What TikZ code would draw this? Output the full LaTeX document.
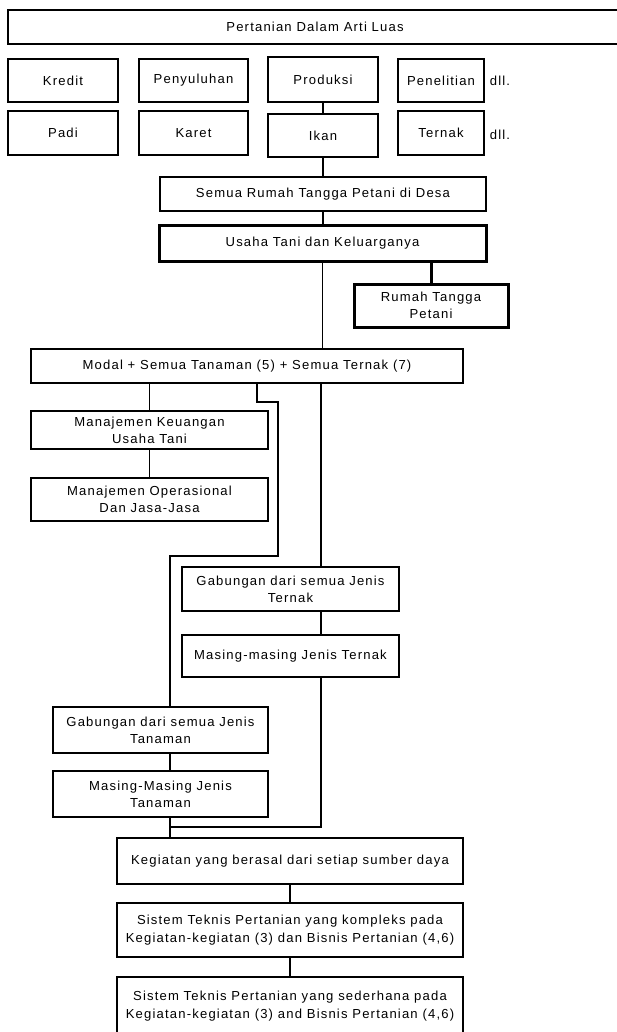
\documentclass[tikz,border=0pt]{standalone}
\usepackage{fontspec}
\setmainfont[LetterSpace=9]{Liberation Sans}
\usetikzlibrary{calc}

\begin{document}
\begin{tikzpicture}[x=0.75pt,y=-0.75pt,
  box/.style={draw,line width=1pt,rectangle,align=center,inner sep=0pt,
    font=\fontsize{9.8}{13}\selectfont},
  heavybox/.style={box,line width=2.25pt},
  boxsize/.style 2 args={minimum width=0.75*#1,minimum height=0.75*#2},
  link/.style={line width=1pt},
  heavylink/.style={line width=2.25pt}]

\useasboundingbox (0,0) rectangle (617,1032);

% Title and the two rows of examples.
\node[box,boxsize={614}{34}] (pertanian) at (315,27) {Pertanian Dalam Arti Luas};

\node[box,boxsize={110}{43}] (kredit) at (63,80.5) {Kredit};
\node[box,boxsize={109}{43}] (penyuluhan) at (193.5,80.5) {Penyuluhan};
\node[box,boxsize={110}{45}] (produksi) at (323,79.5) {Produksi};
\node[box,boxsize={86}{43}] (penelitian) at (441,80.5) {Penelitian};
\node[font=\fontsize{9.8}{13}\selectfont] (dllA) at (500,81) {dll.};

\node[box,boxsize={110}{44}] (padi) at (63,133) {Padi};
\node[box,boxsize={109}{44}] (karet) at (193.5,133) {Karet};
\node[box,boxsize={110}{43}] (ikan) at (323,135.5) {Ikan};
\node[box,boxsize={86}{44}] (ternak) at (441,133) {Ternak};
\node[font=\fontsize{9.8}{13}\selectfont] (dllB) at (500,135) {dll.};

% Household and farm.
\node[box,boxsize={326}{34}] (semua) at (323,194) {Semua Rumah Tangga Petani di Desa};
\node[heavybox,boxsize={327}{36}] (usaha) at (322.5,243) {Usaha Tani dan Keluarganya};
\node[heavybox,boxsize={154}{43}] (rumah) at (431,305.5) {Rumah Tangga\\Petani};

\node[box,boxsize={432}{34}] (modal) at (247,366) {Modal + Semua Tanaman (5) + Semua Ternak (7)};
\node[box,boxsize={237}{38}] (keuangan) at (149.5,430) {Manajemen Keuangan\\Usaha Tani};
\node[box,boxsize={237}{43}] (operasional) at (149.5,499.5) {Manajemen Operasional\\Dan Jasa-Jasa};

% Livestock and crops.
\node[box,boxsize={217}{44}] (gabTernak) at (290.5,589) {Gabungan dari semua Jenis\\Ternak};
\node[box,boxsize={217}{42}] (masTernak) at (290.5,656) {Masing-masing Jenis Ternak};
\node[box,boxsize={215}{46}] (gabTanaman) at (160.5,730) {Gabungan dari semua Jenis\\Tanaman};
\node[box,boxsize={215}{46}] (masTanaman) at (160.5,794) {Masing-Masing Jenis\\Tanaman};

\node[box,boxsize={346}{46}] (kegiatan) at (290,861) {Kegiatan yang berasal dari setiap sumber daya};
\node[box,boxsize={346}{54}] (kompleks) at (290,930) {Sistem Teknis Pertanian yang kompleks pada\\Kegiatan-kegiatan (3) dan Bisnis Pertanian (4,6)};
\node[box,boxsize={346}{58}] (sederhana) at (290,1006) {Sistem Teknis Pertanian yang sederhana pada\\Kegiatan-kegiatan (3) and Bisnis Pertanian (4,6)};

\coordinate (ternakline) at (321,0);
\coordinate (tanamanline) at (170,0);

% Connectors.
\draw[link] (produksi) -- (ikan);
\draw[link] (ikan) -- (semua);
\draw[link] (semua.south) -- (semua.south |- usaha.north);
\draw[link] (usaha.south) -- (usaha.south |- modal.north);
\draw[heavylink] (rumah.north) -- (rumah.north |- usaha.south);
\draw[link] (keuangan.north) -- (keuangan.north |- modal.south);
\draw[link] (keuangan) -- (operasional);

\draw[link] (modal.south -| 257,0) -- (257,402) -- (278,402) -- (278,556)
  -- (170,556) -- (gabTanaman.north -| tanamanline);
\draw[link] (modal.south -| ternakline) -- (gabTernak.north -| ternakline);
\draw[link] (gabTernak.south -| ternakline) -- (masTernak.north -| ternakline);
\draw[link] (masTernak.south -| ternakline) -- (321,827) -- (170,827);

\draw[link] (gabTanaman.south -| tanamanline) -- (masTanaman.north -| tanamanline);
\draw[link] (masTanaman.south -| tanamanline) -- (kegiatan.north -| tanamanline);
\draw[link] (kegiatan) -- (kompleks);
\draw[link] (kompleks) -- (sederhana);

\end{tikzpicture}
\end{document}
